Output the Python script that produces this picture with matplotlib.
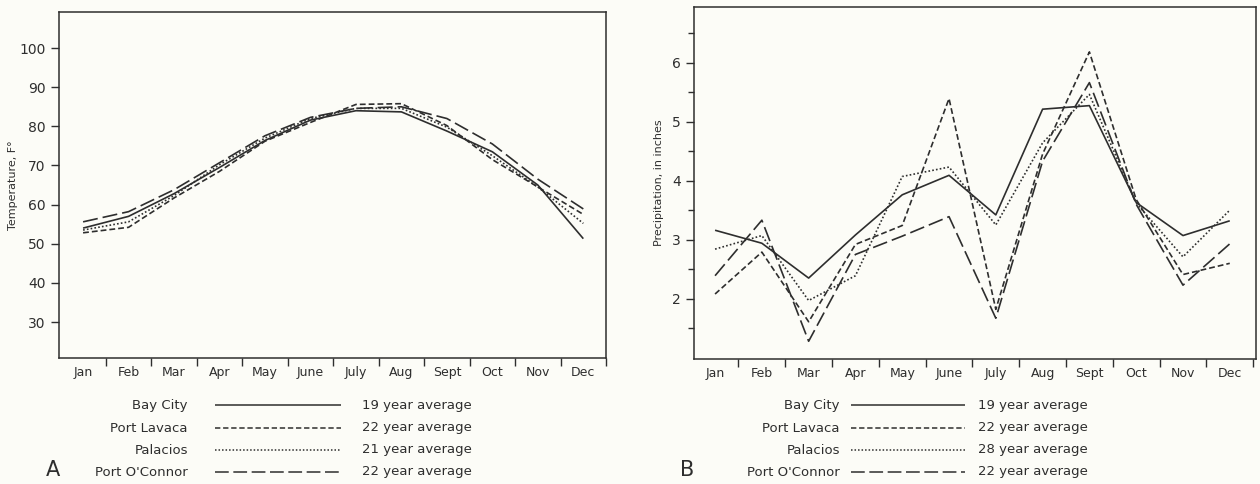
import matplotlib.pyplot as plt
from matplotlib.lines import Line2D
from matplotlib.ticker import FixedLocator
import numpy as np

months = ['Jan', 'Feb', 'Mar', 'Apr', 'May', 'June', 'July', 'Aug', 'Sept', 'Oct', 'Nov', 'Dec']
stations = ['Bay City', 'Port Lavaca', 'Palacios', "Port O'Connor"]
years_a = ['19 year average', '22 year average', '21 year average', '22 year average']
years_b = ['19 year average', '22 year average', '28 year average', '22 year average']

# mean monthly temperature, deg F
temp_bay_city = [54.0, 57.0, 62.8, 69.5, 76.4, 81.6, 84.0, 83.7, 78.8, 73.5, 65.0, 51.3]
temp_port_lavaca = [52.8, 54.2, 61.7, 68.5, 76.2, 81.0, 85.6, 85.8, 80.2, 71.5, 64.5, 57.5]
temp_palacios = [53.5, 55.6, 62.3, 70.2, 77.0, 82.0, 84.6, 84.6, 79.8, 72.5, 64.5, 55.2]
temp_port_oconnor = [55.6, 58.2, 63.8, 70.7, 77.6, 82.3, 84.6, 85.0, 82.0, 75.5, 66.5, 58.9]

# mean monthly precipitation, inches
prec_bay_city = [3.16, 2.94, 2.35, 3.08, 3.76, 4.09, 3.42, 5.21, 5.27, 3.63, 3.07, 3.32]
prec_port_lavaca = [2.08, 2.79, 1.61, 2.92, 3.24, 5.39, 1.82, 4.45, 6.18, 3.68, 2.41, 2.60]
prec_palacios = [2.84, 3.07, 1.97, 2.39, 4.07, 4.23, 3.25, 4.64, 5.46, 3.62, 2.71, 3.50]
prec_port_oconnor = [2.39, 3.33, 1.28, 2.75, 3.06, 3.39, 1.67, 4.33, 5.66, 3.60, 2.23, 2.93]

ink = '#2e2e2e'
bg = '#fcfcf7'
styles = [(0, ()), (0, (3.5, 1.8)), (0, (1, 1.3)), (0, (9, 3))]

plt.rcParams['font.family'] = 'DejaVu Sans'

fig = plt.figure(figsize=(12.6, 4.84), dpi=100, facecolor=bg)


def setup(ax, ylabel, pad):
    ax.set_facecolor(bg)
    for s in ax.spines.values():
        s.set_color(ink)
        s.set_linewidth(1.1)
    ax.set_xticks(range(12))
    ax.set_xticklabels(months, fontsize=9, color=ink)
    ax.xaxis.set_minor_locator(FixedLocator(np.arange(0.5, 11.6, 1.0)))
    ax.tick_params(axis='x', which='major', length=0, pad=6)
    ax.tick_params(axis='x', which='minor', length=6, width=1, color=ink, direction='out')
    ax.tick_params(axis='y', which='major', length=6, width=1, color=ink, labelsize=10, labelcolor=ink)
    ax.tick_params(axis='y', which='minor', length=4, width=1, color=ink)
    ax.set_ylabel(ylabel, fontsize=8, color=ink, labelpad=pad)


# A: temperature
ax1 = fig.add_axes([0.0468, 0.2603, 0.4342, 0.7147])
x = np.arange(12)
for vals, ls in zip([temp_bay_city, temp_port_lavaca, temp_palacios, temp_port_oconnor], styles):
    ax1.plot(x, vals, color=ink, lw=1.2, linestyle=ls)
ax1.set_xlim(-0.53, 11.5)
ax1.set_ylim(20.8, 109.2)
ax1.yaxis.set_major_locator(FixedLocator(range(30, 101, 10)))
setup(ax1, 'Temperature, F°', 1)

# B: precipitation
ax2 = fig.add_axes([0.5508, 0.2583, 0.446, 0.7272])
for vals, ls in zip([prec_bay_city, prec_port_lavaca, prec_palacios, prec_port_oconnor], styles):
    ax2.plot(x, vals, color=ink, lw=1.2, linestyle=ls)
ax2.set_xlim(-0.45, 11.56)
ax2.set_ylim(0.98, 6.94)
ax2.yaxis.set_major_locator(FixedLocator([2, 3, 4, 5, 6]))
ax2.yaxis.set_minor_locator(FixedLocator([1.5, 2.5, 3.5, 4.5, 5.5, 6.5]))
setup(ax2, 'Precipitation, in inches', 6)


# legends below each panel
def legend(name_x, line_x0, line_x1, text_x, years, letter, letter_x):
    rows = [405, 428, 450, 472]
    for name, yr, ls, ypx in zip(stations, years, styles, rows):
        yf = 1 - ypx / 484
        fig.text(name_x / 1260, yf, name, ha='right', va='center', fontsize=9.5, color=ink)
        fig.add_artist(Line2D([line_x0 / 1260, line_x1 / 1260], [yf, yf], transform=fig.transFigure,
                              color=ink, lw=1.1, linestyle=ls))
        fig.text(text_x / 1260, yf, yr, ha='left', va='center', fontsize=9.5, color=ink)
    fig.text(letter_x / 1260, 1 - 470 / 484, letter, ha='left', va='center', fontsize=15, color=ink)


legend(188, 215, 341, 362, years_a, 'A', 46)
legend(840, 851, 965, 978, years_b, 'B', 680)

fig.savefig('out.png', dpi=100, facecolor=bg)
